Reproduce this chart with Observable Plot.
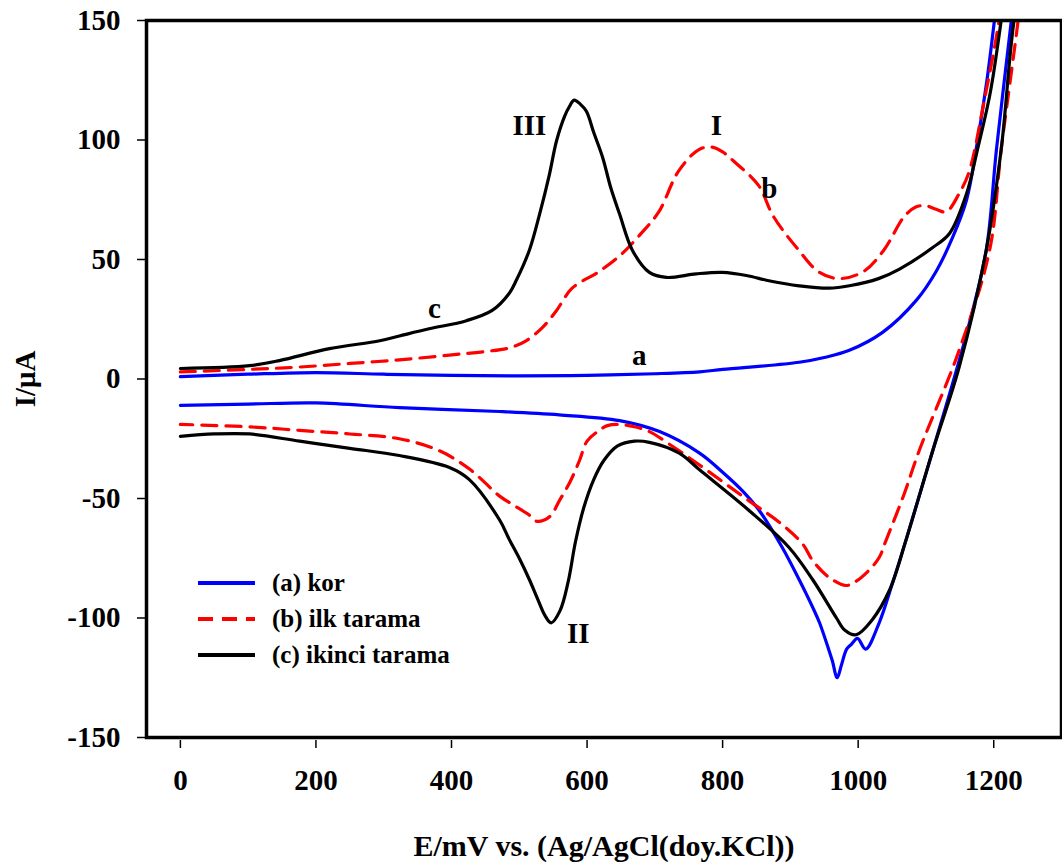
<!DOCTYPE html>
<html>
<head>
<meta charset="utf-8">
<script src="https://cdn.jsdelivr.net/npm/d3@7"></script>
<script src="https://cdn.jsdelivr.net/npm/@observablehq/plot@0.6"></script>
<style>
  html, body { margin: 0; padding: 0; background: #fff; }
  #wrap { position: relative; width: 1062px; height: 865px; }
  #legend { position: absolute; left: 198px; top: 565px; font-family: "Liberation Serif", "Times New Roman", serif; font-weight: bold; font-size: 25px; color: #000; }
  .row { display: flex; align-items: center; height: 36px; }
  .row svg { margin-right: 17px; }
</style>
</head>
<body>
<div id="wrap">
  <div id="chart"></div>
  <div id="legend"></div>
</div>
<script>
// (a) kor — forward (anodic) and reverse (cathodic) scans
const aFwdE = [0, 100, 200, 300, 400, 500, 600, 700, 766, 800, 913, 950, 987, 1036, 1086, 1115, 1139, 1160, 1174, 1190, 1201, 1215];
const aFwdI = [1, 2, 2.7, 2, 1.5, 1.3, 1.5, 2.2, 3, 4, 7, 9, 12, 19.5, 33, 45, 59, 75, 96, 125, 150, 185];
const aRevE = [1240, 1226, 1204, 1189, 1160, 1110, 1071, 1050, 1031, 1011, 999, 990, 983, 975, 969, 962, 957, 943, 933, 913, 888, 854, 830, 800, 766, 707, 648, 559, 471, 323, 200, 100, 0];
const aRevI = [185, 150, 96, 54, 19, -30, -67, -86, -102, -113, -108.5, -111, -113, -120, -125, -118, -113.6, -102, -95.6, -84, -70.5, -55, -47, -39, -31, -22, -17.4, -15, -13.6, -12, -10, -10.5, -11];

// (b) ilk tarama
const bFwdE = [0, 100, 176, 250, 323, 397, 450, 485, 510, 534, 555, 578, 618, 650, 677, 706, 735, 765, 784, 800, 817, 853, 875, 912, 941, 971, 1008, 1038, 1068, 1085, 1100, 1115, 1130, 1149, 1164, 1185, 1208, 1225];
const bFwdI = [3, 4, 5, 6.5, 8, 10, 11.5, 13, 16, 21.5, 28.7, 38, 45, 52, 60, 70, 87, 96, 97, 95, 91, 81, 68, 54, 45, 42, 45, 54, 68, 72, 72.5, 71, 70, 77.6, 87, 115, 150, 185];
const bRevE = [1250, 1236, 1211, 1194, 1149, 1090, 1068, 1041, 1031, 1016, 995, 982, 957, 933, 918, 884, 839, 766, 720, 692, 670, 648, 630, 618, 600, 589, 575, 559, 547, 537, 525, 515, 493, 471, 428, 382, 323, 250, 176, 100, 0];
const bRevI = [185, 150, 96, 54, 12, -30, -48, -67.6, -74.7, -80, -85, -86.4, -83, -76, -69, -60, -51, -36, -27, -22, -20, -19, -19.5, -21.5, -26, -34, -43, -51, -57, -59, -59.5, -57, -53, -49, -38, -30, -25, -23, -21.5, -20, -19];

// (c) ikinci tarama
const cFwdE = [0, 102, 146, 220, 294, 323, 367, 422, 460, 485, 496, 515, 530, 544, 555, 567, 574, 581, 590, 599, 610, 623, 635, 648, 667, 692, 717, 761, 800, 835, 870, 913, 957, 987, 1030, 1061, 1110, 1135, 1160, 1176, 1195, 1211, 1225];
const cFwdI = [4.4, 5.6, 7.7, 12.7, 16, 18, 21, 24.4, 28.7, 35.8, 41.5, 54, 69, 85, 99.7, 110, 114, 116.7, 115, 112, 103, 92.7, 80, 69, 53.8, 44.6, 42.5, 44, 44.6, 43.3, 41, 39, 38, 39, 42, 46, 55, 61, 77.6, 96, 120, 150, 180];
const cRevE = [1250, 1230, 1211, 1189, 1149, 1110, 1071, 1046, 1020, 997, 980, 968, 933, 898, 839, 766, 736, 692, 670, 645, 625, 610, 595, 583, 572, 560, 547, 538, 527, 515, 500, 485, 471, 426, 397, 323, 250, 176, 102, 50, 0];
const cRevI = [180, 150, 96, 54, 5, -30, -67, -88.5, -101, -107, -105, -100, -84, -70.5, -55, -38, -31, -26.5, -26, -28, -34, -42, -54, -68, -85, -97, -102, -99, -92, -84, -75, -67, -59, -42, -37, -32, -29, -26, -23, -23, -24];

const seriesNames = ["(a) kor", "(b) ilk tarama", "(c) ikinci tarama"];
const seriesColors = ["#0000ff", "#ff0000", "#000000"];
const seriesDash = [null, "15,9", null];

const xTicks = [0, 200, 400, 600, 800, 1000, 1200];
const yTicks = [-150, -100, -50, 0, 50, 100, 150];

const labelText = ["III", "I", "b", "c", "a", "II"];
const labelE = [515, 791, 869, 375, 677, 587];
const labelI = [106, 106, 79.7, 29.5, 9.8, -106.5];

function loop(fE, fI, rE, rI) {
  const pts = [];
  fE.forEach((e, i) => pts.push({E: e, I: fI[i]}));
  rE.forEach((e, i) => pts.push({E: e, I: rI[i]}));
  return pts;
}
const series = [
  loop(aFwdE, aFwdI, aRevE, aRevI),
  loop(bFwdE, bFwdI, bRevE, bRevI),
  loop(cFwdE, cFwdI, cRevE, cRevI)
];
const labels = labelText.map((t, i) => ({t, E: labelE[i], I: labelI[i]}));
const fmt = d => String(d);

const chart = Plot.plot({
  width: 1062,
  height: 865,
  marginLeft: 146,
  marginTop: 20,
  marginRight: 1,
  marginBottom: 128,
  x: {domain: [-50, 1300]},
  y: {domain: [-150, 150]},
  style: {fontFamily: "'Liberation Serif', 'Times New Roman', serif", fontWeight: "bold", color: "#000", background: "#fff"},
  marks: [
    Plot.axisY({ticks: yTicks, tickFormat: fmt, tickSize: 9, tickPadding: 17, fontSize: 29, strokeWidth: 1.5,
      label: "I/μA", labelAnchor: "center", labelArrow: "none", labelOffset: 132}),
    Plot.axisX({ticks: xTicks, tickFormat: fmt, tickSize: 8, dy: 3, tickPadding: 21, fontSize: 29, strokeWidth: 1.5, label: null}),
    Plot.axisX({ticks: [], tickSize: 0, fontSize: 30, dx: -10,
      label: "E/mV vs. (Ag/AgCl(doy.KCl))", labelAnchor: "center", labelArrow: "none", labelOffset: 118}),
    ...series.map((d, i) => Plot.line(d, {x: "E", y: "I", stroke: seriesColors[i], strokeWidth: 3.2,
      strokeDasharray: seriesDash[i], clip: true, curve: "catmull-rom"})),
    Plot.text(labels, {x: "E", y: "I", text: "t", fontSize: 29, fontWeight: "bold", fill: "#000"}),
    Plot.frame({stroke: "#000", strokeWidth: 3.5})
  ]
});
document.getElementById("chart").appendChild(chart);

const legend = document.getElementById("legend");
seriesNames.forEach((n, i) => {
  const row = document.createElement("div");
  row.className = "row";
  row.innerHTML = `<svg width="57" height="8"><line x1="0" y1="4" x2="57" y2="4" stroke="${seriesColors[i]}" stroke-width="4" ${seriesDash[i] ? `stroke-dasharray="15,9"` : ""}/></svg><span>${n}</span>`;
  legend.appendChild(row);
});
</script>
</body>
</html>
